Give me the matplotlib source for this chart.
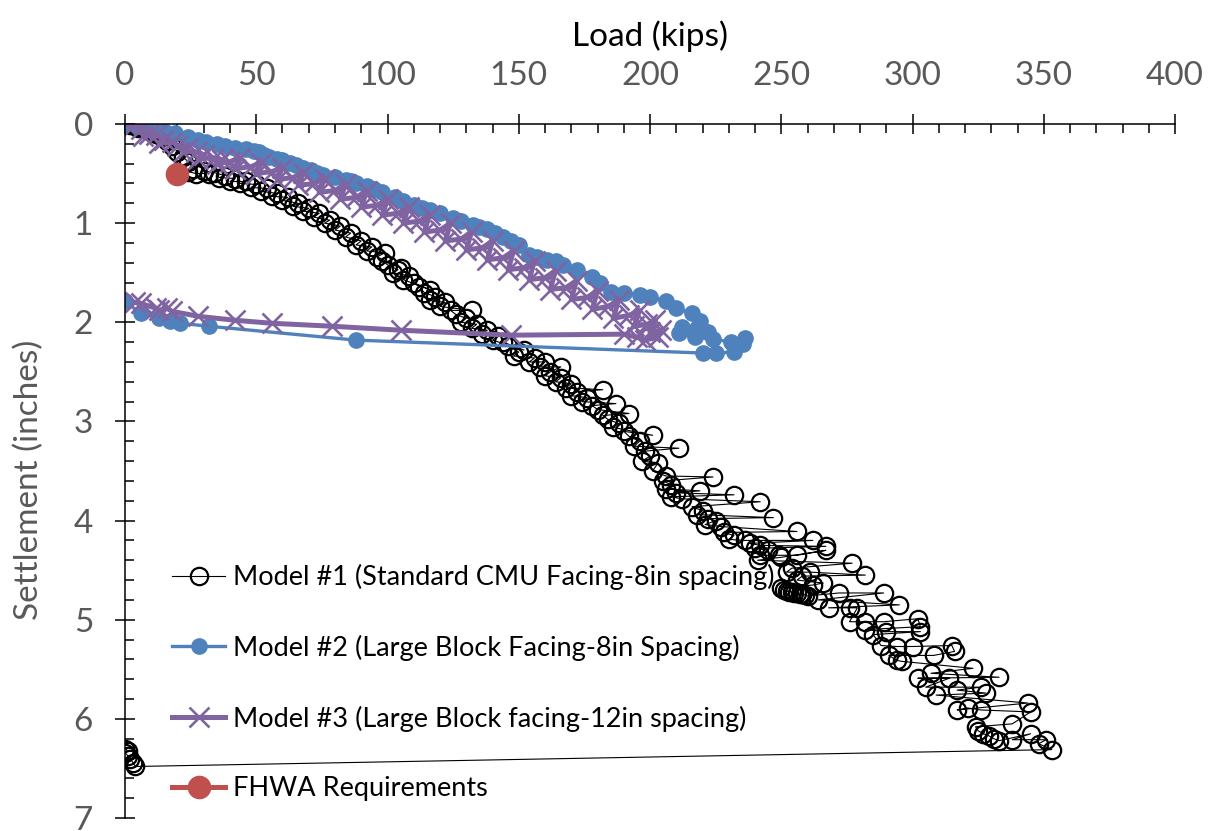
import matplotlib
matplotlib.use('Agg')
import matplotlib.pyplot as plt
from matplotlib.ticker import MultipleLocator

# Model #1 (Standard CMU Facing-8in spacing)
m1_load = [0, 2, 4, 6, 8, 5, 10, 12, 14, 16, 18, 20, 22, 24, 26, 24, 27, 32, 30, 34,
           38, 36, 42, 40, 46, 44, 50, 48, 54, 52, 58, 56, 62, 60, 66, 64, 70, 68, 74, 72,
           78, 76, 82, 80, 86, 84, 90, 88, 94, 92, 99, 96, 105, 98, 100, 104, 102, 108, 106, 116,
           110, 112, 114, 118, 116, 122, 120, 132, 124, 126, 130, 128, 134, 132, 138, 136, 142, 140, 152, 144,
           146, 150, 148, 156, 154, 160, 158, 166, 162, 160, 166, 164, 170, 168, 182, 172, 170, 176, 174, 187,
           178, 180, 192, 182, 184, 188, 186, 201, 190, 192, 196, 194, 211, 198, 200, 197, 203, 201, 206, 224,
           205, 208, 206, 219, 210, 232, 208, 212, 242, 216, 220, 218, 247, 222, 225, 221, 227, 256, 228, 232,
           230, 236, 262, 238, 242, 267, 240, 245, 242, 249, 256, 267, 250, 241, 277, 254, 252, 261, 282, 258,
           256, 266, 262, 250, 251, 252, 253, 254, 255, 256, 257, 258, 259, 260, 272, 289, 264, 295, 268, 276,
           279, 276, 282, 289, 302, 303, 282, 290, 303, 285, 288, 294, 300, 315, 316, 308, 291, 294, 296, 323,
           307, 333, 302, 314, 305, 326, 317, 328, 309, 344, 317, 321, 326, 345, 338, 324, 325, 327, 329, 331,
           333, 345, 338, 351, 348, 353, 4, 3, 2, 1, 0, 1, 0]
m1_settle = [0, 0.01, 0.02, 0.03, 0.05, 0.04, 0.08, 0.1, 0.13, 0.17, 0.22, 0.28, 0.33, 0.38, 0.45, 0.48, 0.5, 0.5, 0.47, 0.49,
             0.52, 0.54, 0.55, 0.58, 0.58, 0.6, 0.61, 0.64, 0.65, 0.68, 0.7, 0.73, 0.74, 0.77, 0.8, 0.83, 0.85, 0.88, 0.9, 0.94,
             0.97, 1.0, 1.03, 1.07, 1.1, 1.14, 1.18, 1.22, 1.24, 1.28, 1.3, 1.34, 1.45, 1.38, 1.42, 1.47, 1.5, 1.53, 1.57, 1.67,
             1.6, 1.64, 1.7, 1.74, 1.78, 1.8, 1.84, 1.88, 1.88, 1.92, 1.96, 2.0, 2.02, 2.06, 2.08, 2.12, 2.14, 2.18, 2.28, 2.2,
             2.24, 2.3, 2.34, 2.36, 2.4, 2.4, 2.45, 2.45, 2.5, 2.54, 2.56, 2.6, 2.62, 2.66, 2.68, 2.7, 2.74, 2.76, 2.8, 2.82,
             2.84, 2.88, 2.92, 2.94, 2.98, 3.02, 3.06, 3.14, 3.1, 3.15, 3.2, 3.25, 3.27, 3.3, 3.35, 3.4, 3.42, 3.5, 3.55, 3.56,
             3.6, 3.64, 3.68, 3.7, 3.72, 3.74, 3.76, 3.78, 3.81, 3.86, 3.9, 3.94, 3.97, 3.98, 4.0, 4.04, 4.06, 4.11, 4.12, 4.15,
             4.19, 4.2, 4.2, 4.23, 4.25, 4.26, 4.28, 4.3, 4.35, 4.35, 4.35, 4.3, 4.37, 4.4, 4.43, 4.48, 4.52, 4.52, 4.55, 4.56,
             4.6, 4.63, 4.65, 4.68, 4.7, 4.71, 4.72, 4.72, 4.73, 4.73, 4.74, 4.74, 4.75, 4.76, 4.73, 4.73, 4.8, 4.85, 4.88, 4.88,
             4.88, 5.02, 5.02, 5.02, 4.99, 5.07, 5.1, 5.12, 5.12, 5.15, 5.26, 5.27, 5.27, 5.26, 5.32, 5.36, 5.36, 5.41, 5.42, 5.49,
             5.54, 5.58, 5.59, 5.59, 5.68, 5.68, 5.71, 5.74, 5.76, 5.84, 5.91, 5.89, 5.91, 5.93, 6.05, 6.08, 6.12, 6.15, 6.17, 6.2,
             6.22, 6.15, 6.21, 6.21, 6.25, 6.31, 6.48, 6.44, 6.4, 6.37, 6.34, 6.32, 6.3]

# Model #2 (Large Block Facing-8in Spacing)
m2_load = [0, 5, 10, 15, 19, 24, 28, 31, 35, 38, 42, 46, 49, 51, 53, 55, 58, 60, 63, 65,
           68, 71, 73, 75.5, 80, 84, 86, 88, 92, 95, 98, 103, 106, 110, 113, 116, 120, 125, 128, 132.7,
           135, 138, 141, 144, 147, 150, 154, 157, 160.6, 164, 167, 172, 178, 181, 185, 190, 196, 200, 206, 210,
           216, 219, 218, 212, 222, 211, 217, 224, 231, 236, 235.5, 232, 225, 220, 88, 32, 21, 17, 13, 6, 0]
m2_settle = [0, 0.02, 0.05, 0.07, 0.09, 0.13, 0.16, 0.18, 0.2, 0.22, 0.24, 0.25, 0.27, 0.28, 0.31, 0.33, 0.35, 0.36, 0.39, 0.41,
             0.44, 0.46, 0.49, 0.51, 0.53, 0.56, 0.58, 0.6, 0.63, 0.66, 0.69, 0.74, 0.78, 0.82, 0.85, 0.87, 0.9, 0.95, 0.98, 1.02,
             1.04, 1.06, 1.1, 1.14, 1.18, 1.22, 1.32, 1.34, 1.37, 1.38, 1.42, 1.47, 1.54, 1.6, 1.69, 1.7, 1.72, 1.74, 1.79, 1.86,
             1.91, 1.99, 2.06, 2.05, 2.1, 2.11, 2.15, 2.17, 2.2, 2.16, 2.22, 2.3, 2.31, 2.31, 2.18, 2.04, 2.01, 1.99, 1.96, 1.91, 1.79]

# Model #3 (Large Block facing-12in spacing)
m3_load = [0, 3, 6, 9, 7, 12, 15, 13, 18, 20, 24, 22, 27, 30, 28, 34, 37, 35,
           40, 44, 42, 48, 52, 50, 56, 60, 58, 64, 68, 66, 72, 76, 74, 80, 84, 82,
           88, 92, 90, 96, 100, 98, 104, 108, 106, 112, 116, 114, 120, 124, 122, 128, 132, 130,
           136, 140, 138, 144, 148, 146, 152, 156, 154, 160, 164, 162, 168, 172, 170, 176, 180, 178,
           184, 188, 186, 192, 196, 194, 199, 202, 200, 204, 203, 198, 195, 190,
           147, 105, 79, 56, 42, 28, 18, 16, 13, 12, 6, 4]
m3_settle = [0, 0.02, 0.05, 0.1, 0.12, 0.11, 0.16, 0.19, 0.18, 0.22, 0.24, 0.28, 0.28, 0.31, 0.35, 0.34, 0.36, 0.4,
             0.38, 0.34, 0.45, 0.43, 0.39, 0.5, 0.48, 0.44, 0.56, 0.54, 0.49, 0.62, 0.6, 0.55, 0.69, 0.67, 0.61, 0.76,
             0.74, 0.68, 0.84, 0.82, 0.76, 0.92, 0.9, 0.84, 1.0, 0.98, 0.92, 1.09, 1.07, 1.0, 1.18, 1.16, 1.09, 1.27,
             1.25, 1.18, 1.37, 1.35, 1.28, 1.47, 1.45, 1.38, 1.57, 1.55, 1.48, 1.67, 1.65, 1.58, 1.77, 1.75, 1.68, 1.87,
             1.84, 1.78, 1.96, 1.93, 1.88, 2.04, 2.02, 1.98, 2.1, 2.08, 2.15, 2.18, 2.15, 2.12,
             2.13, 2.08, 2.04, 2.01, 1.98, 1.94, 1.89, 1.86, 1.88, 1.86, 1.81, 1.8]

# FHWA Requirements
fhwa_load = [20]
fhwa_settle = [0.5]

plt.rcParams['font.family'] = ['Lato', 'DejaVu Sans']
grey = '#595959'

fig = plt.figure(figsize=(12.1, 8.31), dpi=100)
ax = fig.add_axes([0.1033, 0.0156, 0.8678, 0.8352])

ax.plot(m1_load, m1_settle, color='black', lw=0.8, marker='o', ms=12.5,
        mfc='none', mec='black', mew=1.6,
        label='Model #1 (Standard CMU Facing-8in spacing)')
ax.plot(m2_load, m2_settle, color='#4F81BD', lw=2.4, marker='o', ms=11,
        mfc='#4F81BD', mec='#4F81BD',
        label='Model #2 (Large Block Facing-8in Spacing)')
ax.plot(m3_load, m3_settle, color='#8064A2', lw=3.6, marker='x', ms=15,
        mew=1.9, label='Model #3 (Large Block facing-12in spacing)')
ax.plot(fhwa_load, fhwa_settle, color='#C0504D', lw=3.6, marker='o', ms=16,
        label='FHWA Requirements')

ax.set_xlim(0, 400)
ax.set_ylim(7, 0)
ax.xaxis.tick_top()
ax.xaxis.set_label_position('top')
ax.xaxis.set_major_locator(MultipleLocator(50))
ax.xaxis.set_minor_locator(MultipleLocator(10))
ax.yaxis.set_major_locator(MultipleLocator(1))
ax.yaxis.set_minor_locator(MultipleLocator(0.2))

for s in ['right', 'bottom']:
    ax.spines[s].set_visible(False)
for s in ['left', 'top']:
    ax.spines[s].set_linewidth(1.1)

ax.tick_params(which='major', direction='inout', length=14, width=1.1,
               labelsize=24, labelcolor=grey)
ax.tick_params(which='minor', direction='in', length=6.5, width=1.1)
ax.tick_params(axis='x', pad=17)
ax.tick_params(axis='y', pad=16)

ax.set_xlabel('Load (kips)', fontsize=24, color='black')
ax.set_ylabel('Settlement (inches)', fontsize=24, color=grey)
ax.xaxis.set_label_coords(0.5, 1.112)
ax.yaxis.set_label_coords(-0.077, 0.487)

ax.legend(loc='upper left', bbox_to_anchor=(0.045, 0.366), frameon=False,
          fontsize=19.5, handlelength=1.95, handletextpad=0.28, labelspacing=1.65,
          borderpad=0, borderaxespad=0)

plt.savefig('out.png', dpi=100)
